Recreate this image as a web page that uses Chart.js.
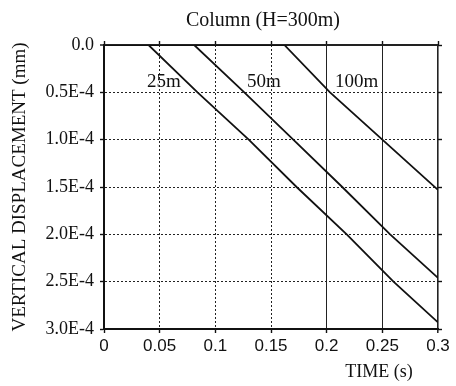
<!DOCTYPE html>
<html lang="en">
<head>
<meta charset="UTF-8">
<title>Column (H=300m)</title>
<script src="https://cdn.jsdelivr.net/npm/chart.js"></script>
<style>
  body { margin: 0; background: #fff; }
  #wrap { width: 456px; height: 386px; }
</style>
</head>
<body>
<div id="wrap"><canvas id="chart" width="456" height="386"></canvas></div>
<script>
// time (s) and vertical displacement (mm)
const t25 = [0, 0.040, 0.084, 0.130, 0.173, 0.218, 0.260, 0.300];
const d25 = [0, 0, 0.5e-4, 1.0e-4, 1.5e-4, 2.0e-4, 2.5e-4, 2.93e-4];
const t50 = [0, 0.081, 0.126, 0.170, 0.214, 0.257, 0.300];
const d50 = [0, 0, 0.5e-4, 1.0e-4, 1.5e-4, 2.0e-4, 2.46e-4];
const t100 = [0, 0.162, 0.203, 0.250, 0.300];
const d100 = [0, 0, 0.5e-4, 1.0e-4, 1.53e-4];

const xTicks = [0, 0.05, 0.1, 0.15, 0.2, 0.25, 0.3];
const xTickLabels = ['0', '0.05', '0.1', '0.15', '0.2', '0.25', '0.3'];
const yTicks = [0, 0.5e-4, 1.0e-4, 1.5e-4, 2.0e-4, 2.5e-4, 3.0e-4];
const yTickLabels = ['0.0', '0.5E-4', '1.0E-4', '1.5E-4', '2.0E-4', '2.5E-4', '3.0E-4'];

// curve labels (placed in data coordinates)
const curveNames = ['25m', '50m', '100m'];
const curveLabelX = [0.0386, 0.1284, 0.2074];
const curveLabelY = [0.39e-4, 0.39e-4, 0.39e-4];

function pts(ts, ds) {
    return ts.map((t, i) => ({ x: t, y: ds[i] }));
}

function lineSet(label, ts, ds) {
    return {
        label: label,
        data: pts(ts, ds),
        borderColor: '#111',
        borderWidth: 1.8,
        pointRadius: 0,
        tension: 0,
        fill: false
    };
}

const serif = "'Liberation Serif', 'Times New Roman', serif";

const textPlugin = {
    id: 'texts',
    afterDraw(chart) {
        const ctx = chart.ctx;
        const xs = chart.scales.x, ys = chart.scales.y;
        const area = chart.chartArea;
        ctx.save();
        ctx.fillStyle = '#111';
        ctx.textBaseline = 'middle';

        ctx.font = '19px ' + serif;
        ctx.textAlign = 'left';
        curveNames.forEach((n, i) => {
            ctx.fillText(n, xs.getPixelForValue(curveLabelX[i]), ys.getPixelForValue(curveLabelY[i]));
        });

        ctx.textAlign = 'center';
        ctx.font = '20px ' + serif;
        ctx.fillText('Column (H=300m)', area.left + 159, 21);

        ctx.font = '18px ' + serif;
        ctx.fillText('TIME (s)', area.left + 275, 372);
        ctx.restore();
    }
};

const setTicks = vals => scale => { scale.ticks = vals.map(v => ({ value: v })); };

new Chart(document.getElementById('chart'), {
    type: 'scatter',
    data: {
        datasets: [
            lineSet('25m', t25, d25),
            lineSet('50m', t50, d50),
            lineSet('100m', t100, d100)
        ]
    },
    options: {
        responsive: false,
        animation: false,
        showLine: true,
        layout: { padding: { top: 41, right: 14, left: 0, bottom: 0 } },
        plugins: {
            legend: { display: false },
            tooltip: { enabled: false }
        },
        scales: {
            x: {
                type: 'linear',
                position: 'bottom',
                min: 0,
                max: 0.3,
                afterBuildTicks: setTicks(xTicks),
                afterFit: s => { s.height = 57; },
                ticks: {
                    color: '#111',
                    padding: 3,
                    maxRotation: 0,
                    font: { family: "'Liberation Sans', Arial, sans-serif", size: 17 },
                    callback: (v, i) => xTickLabels[i]
                },
                grid: {
                    color: '#222',
                    lineWidth: c => c.index === 6 ? 1.6 : 1,
                    tickLength: 4,
                    tickColor: '#111',
                    tickWidth: 1.4
                },
                border: {
                    color: '#111',
                    width: 2,
                    dash: c => (c.index === undefined || c.index === 0 || c.index >= 4) ? [] : [2, 2]
                }
            },
            x2: {
                type: 'linear',
                position: 'top',
                min: 0,
                max: 0.3,
                afterBuildTicks: setTicks(xTicks),
                ticks: { display: false },
                grid: { drawOnChartArea: false, tickLength: 4, tickColor: '#111', tickWidth: 1.4 },
                border: { display: false }
            },
            y: {
                type: 'linear',
                position: 'left',
                reverse: true,
                min: 0,
                max: 3e-4,
                afterBuildTicks: setTicks(yTicks),
                afterFit: s => { s.width = 104; },
                ticks: {
                    color: '#111',
                    padding: 6,
                    font: { family: serif, size: 18 },
                    callback: (v, i) => yTickLabels[i]
                },
                grid: {
                    color: '#222',
                    lineWidth: c => c.index === 0 ? 2 : 1,
                    tickLength: 4,
                    tickColor: '#111',
                    tickWidth: 1.4
                },
                border: {
                    color: '#111',
                    width: 2,
                    dash: c => (c.index === undefined || c.index === 0) ? [] : [2, 2]
                },
                title: {
                    display: true,
                    text: 'VERTICAL DISPLACEMENT (mm)',
                    color: '#111',
                    padding: { top: 9, bottom: 0 },
                    font: { family: serif, size: 19 }
                }
            },
            y2: {
                type: 'linear',
                position: 'right',
                reverse: true,
                min: 0,
                max: 3e-4,
                afterBuildTicks: setTicks(yTicks),
                afterFit: s => { s.width = 4; },
                ticks: { display: false },
                grid: { drawOnChartArea: false, tickLength: 4, tickColor: '#111', tickWidth: 1.4 },
                border: { display: false }
            }
        }
    },
    plugins: [textPlugin]
});
</script>
</body>
</html>
